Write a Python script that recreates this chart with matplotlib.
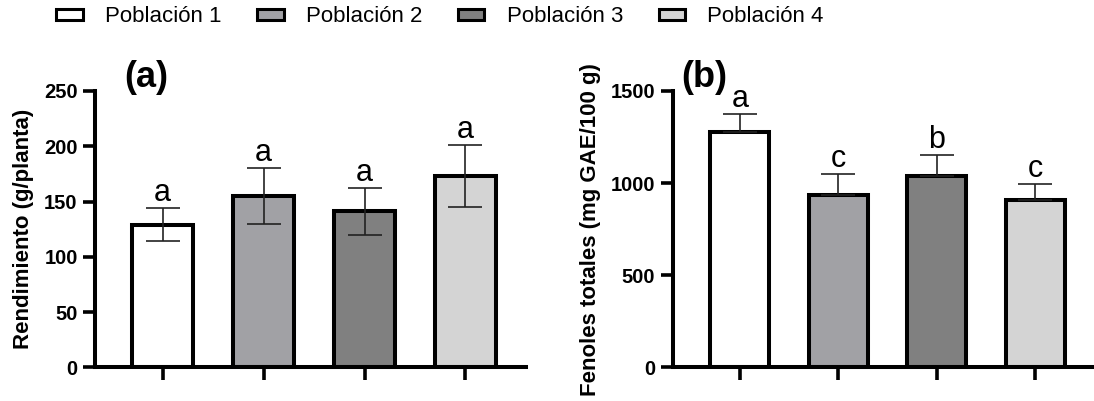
import numpy as np
import matplotlib.pyplot as plt
from matplotlib.patches import Patch

plt.rcParams['font.family'] = ['Liberation Sans', 'DejaVu Sans']

# data
poblaciones = ["Población 1", "Población 2", "Población 3", "Población 4"]
colores = ["#ffffff", "#a1a1a5", "#808080", "#d4d4d4"]

rend_media = [129, 155, 141, 173]
rend_err = [15, 25, 21, 28]
rend_letras = ["a", "a", "a", "a"]

fen_media = [1280, 936, 1040, 906]
fen_err = [97, 116, 114, 89]
fen_letras = ["a", "c", "b", "c"]

fig = plt.figure(figsize=(10.94, 4.01), dpi=100)
ax1 = fig.add_axes([95/1094, 33.7/401, 431/1094, 276.3/401])
ax2 = fig.add_axes([672.7/1094, 33.7/401, 421.5/1094, 276.3/401])

x = np.arange(len(poblaciones))


def panel(ax, media, err, letras, solo_arriba):
    ax.bar(x, media, width=0.6, color=colores, edgecolor="black",
           linewidth=2.9, zorder=2)
    if solo_arriba:
        yerr = [np.zeros(len(err)), err]
    else:
        yerr = err
    ax.errorbar(x, media, yerr=yerr, fmt="none", ecolor="#222222",
                elinewidth=1.2, capsize=12, capthick=1.2, zorder=3)
    for xi, m, e, l in zip(x, media, err, letras):
        ax.annotate(l, (xi, m + e), xytext=(0, 5), textcoords="offset points",
                    ha="center", va="baseline", fontsize=22)
    ax.spines["top"].set_visible(False)
    ax.spines["right"].set_visible(False)
    ax.spines["left"].set_linewidth(2.9)
    ax.spines["bottom"].set_linewidth(2.9)
    ax.set_xticks(x)
    ax.set_xticklabels([])
    ax.tick_params(axis="x", length=9, width=2.6)
    ax.tick_params(axis="y", length=8.5, width=2.6, labelsize=14.5, pad=4)


panel(ax1, rend_media, rend_err, rend_letras, False)
ax1.set_xlim(-0.67, 3.6)
ax1.set_ylim(0, 250)
ax1.set_yticks([0, 50, 100, 150, 200, 250])
for t in ax1.get_yticklabels():
    t.set_fontweight("bold")
ax1.set_ylabel("Rendimiento (g/planta)", fontsize=16, fontweight="bold")
ax1.yaxis.set_label_coords(-0.142, 0.5)
ax1.text(0.12, 1.05, "(a)", transform=ax1.transAxes, ha="center",
         va="center", fontsize=26, fontweight="bold")

panel(ax2, fen_media, fen_err, fen_letras, True)
ax2.set_xlim(-0.683, 3.6)
ax2.set_ylim(0, 1500)
ax2.set_yticks([0, 500, 1000, 1500])
for t in ax2.get_yticklabels():
    t.set_fontweight("bold")
ax2.set_ylabel("Fenoles totales (mg GAE/100 g)", fontsize=16, fontweight="bold")
ax2.yaxis.set_label_coords(-0.17, 0.5)
ax2.text(0.074, 1.05, "(b)", transform=ax2.transAxes, ha="center",
         va="center", fontsize=26, fontweight="bold")

handles = [Patch(facecolor=c, edgecolor="black", linewidth=2.2) for c in colores]
fig.legend(handles, poblaciones, loc="center left",
           bbox_to_anchor=(56/1094, 1 - 17/401), ncol=4, frameon=False,
           fontsize=16, handlelength=1.2, handleheight=0.4,
           handletextpad=1.0, columnspacing=1.6, borderpad=0,
           borderaxespad=0)

fig.savefig("out.png", dpi=100)
